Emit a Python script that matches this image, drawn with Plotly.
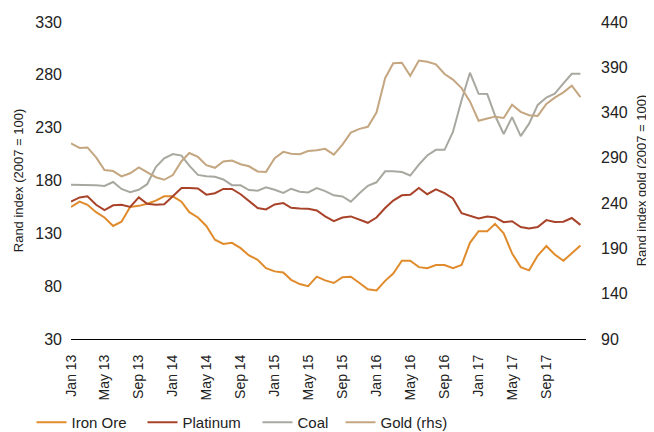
import pandas as pd
import plotly.graph_objects as go

months = pd.date_range("2013-01-01", periods=61, freq="MS")

iron_ore = [155, 160, 157, 150, 145, 137, 141, 155, 156, 158, 161, 165, 165, 160, 150, 145,
            137, 124, 120, 121, 116, 109, 105, 97, 94, 93, 86, 82, 80, 89, 85.5, 83, 88.5,
            89, 83, 77, 76, 85, 92, 104, 104, 98, 97, 100, 100, 97, 100, 121, 132, 132,
            139, 130, 111, 98, 95, 109, 118, 110, 104, 111, 118.5]

platinum = [160, 164, 165, 157, 152, 156.5, 157, 155, 164, 158, 157, 157.5, 165, 172.8, 172.8,
            172.5, 166.6, 168, 172, 172, 167, 161, 154, 152.6, 157.3, 158.6, 154.2, 153.6,
            153.2, 151.6, 146, 141.6, 145, 146, 143, 140, 145, 154, 161, 166, 166.5, 173,
            167, 171.7, 168, 163, 149, 146.5, 144, 146, 145, 140.5, 141.5, 136, 134.7, 136,
            142.5, 140.8, 141, 144.5, 138]

coal = [176, 176, 176, 175.5, 174.8, 178.6, 172, 169, 171.2, 176.5, 192.7, 201, 205, 203.6,
        194, 185.3, 184, 183.5, 181, 175.6, 175.5, 171, 170.3, 173.5, 171.3, 168.3, 172.2,
        169.3, 168.7, 172.8, 170, 166, 164.9, 160, 168, 175, 178.3, 188.7, 188.7, 188,
        184.7, 195, 203.7, 209, 209, 226, 256, 282, 262, 261.8, 241.5, 224, 240, 222,
        233.8, 251.5, 258.5, 262.2, 272, 281, 281]

gold = [306, 301, 301.5, 290.5, 276.5, 275.4, 269.6, 273, 279.5, 273.7, 268.6, 265.8, 271,
        286.3, 295.4, 291, 282, 279, 286, 287, 283, 280.7, 275, 274.5, 289.5, 296.6, 294.6,
        294.1, 297.6, 298.3, 300, 293.5, 304.7, 317.9, 322, 324.3, 340, 378, 394.4, 395,
        380.7, 397.5, 396.2, 393.3, 382.6, 376.4, 367, 352.3, 331, 333.5, 335.5, 334,
        348.6, 340.8, 337, 336.3, 349.5, 356.5, 362.3, 369.7, 357.1]

series_names = ["Iron Ore", "Platinum", "Coal", "Gold (rhs)"]
colors = ["#E08B2C", "#A8432A", "#A9A8A0", "#C4A680"]

x_tick_dates = pd.date_range("2013-01-01", "2017-09-01", freq="4MS")
x_tick_labels = [d.strftime("%b %y") for d in x_tick_dates]
left_ticks = [30, 80, 130, 180, 230, 280, 330]
right_ticks = [90, 140, 190, 240, 290, 340, 390, 440]

FONT = "Liberation Sans, Arial, sans-serif"
TXT = "#222"

fig = go.Figure()
data = [iron_ore, platinum, coal, gold]
legends = ["legend", "legend2", "legend3", "legend4"]
for k, (name, vals, col) in enumerate(zip(series_names, data, colors)):
    fig.add_trace(go.Scatter(
        x=months, y=vals, name=name, mode="lines",
        line=dict(color=col, width=2),
        yaxis="y2" if k == 3 else "y",
        legend=legends[k],
    ))

leg_common = dict(orientation="h", xref="container", yref="container",
                  yanchor="middle", y=0.0224, xanchor="left",
                  font=dict(family=FONT, size=15, color=TXT),
                  bgcolor="rgba(0,0,0,0)", itemwidth=30)
legend_x = [0.0364, 0.2082, 0.3862, 0.5147]

fig.update_layout(
    width=646, height=424,
    margin=dict(l=62.7, r=68.3, t=13.7, b=93, autoexpand=False),
    paper_bgcolor="white", plot_bgcolor="white",
    font=dict(family=FONT, color=TXT),
    showlegend=True,
    legend=dict(**leg_common, x=legend_x[0]),
    legend2=dict(**leg_common, x=legend_x[1]),
    legend3=dict(**leg_common, x=legend_x[2]),
    legend4=dict(**leg_common, x=legend_x[3]),
    xaxis=dict(
        type="date",
        range=["2013-01-01", "2018-01-21"],
        tickvals=x_tick_dates, ticktext=x_tick_labels,
        tickangle=-90, tickfont=dict(size=14, family=FONT, color=TXT),
        showgrid=False, zeroline=False,
        showline=True, linecolor="#000", linewidth=1,
        ticks="", ticklabelstandoff=9, automargin=False,
    ),
    yaxis=dict(
        range=[30, 330], tickvals=left_ticks,
        tickfont=dict(size=16, family=FONT, color=TXT),
        showgrid=False, zeroline=False, showline=False, ticks="",
        ticklabelstandoff=8, automargin=False,
        title=dict(text="Rand index (2007 = 100)", font=dict(size=13, family=FONT, color=TXT),
                   standoff=8),
    ),
    yaxis2=dict(
        range=[90, 440], tickvals=right_ticks, overlaying="y", side="right",
        tickfont=dict(size=16, family=FONT, color=TXT),
        showgrid=False, zeroline=False, showline=False, ticks="",
        ticklabelstandoff=14, automargin=False,
        title=dict(text="Rand index gold (2007 = 100)", font=dict(size=13, family=FONT, color=TXT),
                   standoff=10),
    ),
)

fig.write_html("out.html")
